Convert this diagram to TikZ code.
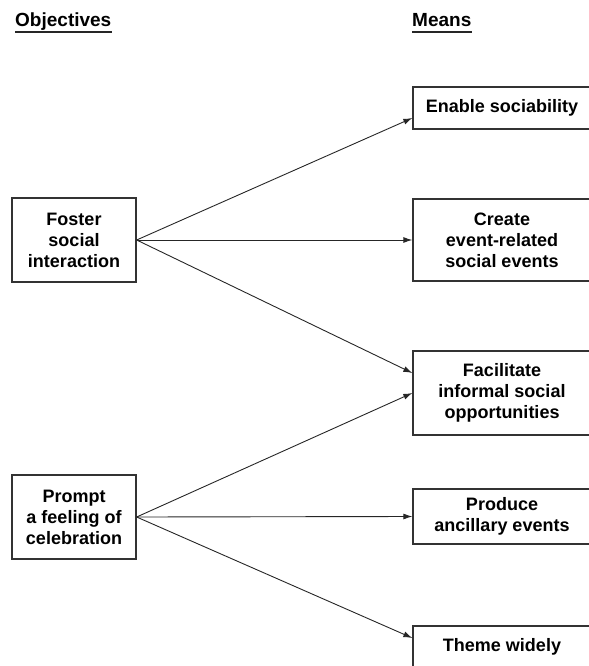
\documentclass[tikz,border=0pt]{standalone}
\usepackage{fontspec}
\setmainfont{Liberation Sans}
\usetikzlibrary{arrows.meta}
\begin{document}
\begin{tikzpicture}[x=1bp,y=-1bp,
  box/.style={draw=black!80, line width=1.3bp, align=center, inner sep=0pt,
    font=\fontsize{18bp}{21bp}\selectfont\bfseries, text=black},
  lbox/.style={box, minimum width=124bp, minimum height=84bp},
  rbox/.style={box, minimum width=178bp},
  hdr/.style={inner sep=0pt, font=\fontsize{19bp}{22bp}\selectfont\bfseries},
  link/.style={draw=black!85, line width=0.9bp, -{Latex[length=9bp,width=6bp]}},
  uline/.style={draw=black!85, line width=1.6bp}
]
\useasboundingbox (0,0) rectangle (589,666);
\clip (0,0) rectangle (589,666);

% headers
\node[hdr, anchor=base west] (obj) at (15,27) {Objectives};
\node[hdr, anchor=base west] (mea) at (412,27) {Means};
\draw[uline] ([yshift=-5bp]obj.base west) -- ([yshift=-5bp]obj.base east);
\draw[uline] ([yshift=-5bp]mea.base west) -- ([yshift=-5bp]mea.base east);

% objectives
\node[lbox] (fos) at (74,240) {Foster\\social\\interaction};
\node[lbox] (pro) at (74,517) {Prompt\\a feeling of\\celebration};

% means
\node[rbox, minimum height=42bp] (ena) at (502,108) {Enable sociability};
\node[rbox, minimum height=82bp] (cre) at (502,240) {Create\\event-related\\social events};
\node[rbox, minimum height=84bp] (fac) at (502,393) {Facilitate\\informal social\\opportunities};
\node[rbox, minimum height=55bp] (prd) at (502,516.5) {Produce\\ancillary events};
\node[rbox, minimum height=42bp] (the) at (502,647) {Theme widely};

% connectors
\draw[link] (fos.east) -- ([yshift=-10bp]ena.west);
\draw[link] (fos.east) -- (cre.west);
\draw[link] (fos.east) -- ([yshift=20bp]fac.west);
\draw[link] (pro.east) -- (fac.west);
\draw[link] (pro.east) -- (prd.west);
\draw[link] (pro.east) -- ([yshift=9bp]the.west);
\end{tikzpicture}
\end{document}
